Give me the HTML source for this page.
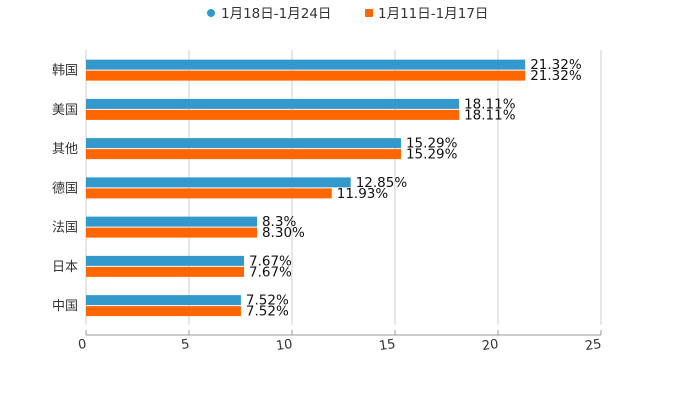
<!DOCTYPE html>
<html><head><meta charset="utf-8"><style>
body{margin:0;background:#fff;}
svg{display:block;font-family:"DejaVu Sans","Noto Sans CJK SC",sans-serif;}
</style></head><body>
<svg id="c" width="700" height="400">
<g>
<g><circle cx="211" cy="13" r="4" fill="#3399cc"/><text x="221" y="18" font-size="13.5" fill="#333">1月18日-1月24日</text></g>
<g><rect x="365" y="9" width="8" height="8" rx="1" fill="#ff6600"/><text x="378" y="18" font-size="13.5" fill="#333">1月11日-1月17日</text></g>
</g>
<g id="grid"></g>
<g id="bars"></g>
<g id="axes"></g>
</svg>
<script>
const categories=["韩国","美国","其他","德国","法国","日本","中国"];
const seriesA=[21.32,18.11,15.29,12.85,8.3,7.67,7.52];
const seriesB=[21.32,18.11,15.29,11.93,8.30,7.67,7.52];
const labelsA=["21.32%","18.11%","15.29%","12.85%","8.3%","7.67%","7.52%"];
const labelsB=["21.32%","18.11%","15.29%","11.93%","8.30%","7.67%","7.52%"];
const ticks=[0,5,10,15,20,25];
const NS="http://www.w3.org/2000/svg";
const x0=86,x1=601,yTop=50,band=39.25,xmax=25;
const X=v=>x0+(x1-x0)*v/xmax;
const Y=i=>yTop+band*i;
function mk(t,a,p){const e=document.createElementNS(NS,t);for(const k in a)e.setAttribute(k,a[k]);p.appendChild(e);return e;}
const g=document.getElementById('grid'),b=document.getElementById('bars'),ax=document.getElementById('axes');
ticks.forEach(t=>{
 const l=mk('line',{x1:X(t),x2:X(t),y1:yTop,y2:Y(7),stroke:'#ccc','stroke-width':1},g);
 
 
 const tk=mk('line',{x1:X(t),x2:X(t),y1:330,y2:335,stroke:'#999'},ax);
 
 
 const tx=mk('text',{x:X(t)+1,y:348,'font-size':13,fill:'#333','text-anchor':'end',transform:`rotate(-8 ${X(t)} 348)`},ax);
 tx.textContent=t;
 
 
});
const al=mk('line',{x1:x0,x2:x1,y1:335,y2:335,stroke:'#999'},ax);


categories.forEach((c,i)=>{
 const cy=Y(i)+band/2;
 const tl=mk('text',{x:78,y:cy+5,'font-size':13,fill:'#333','text-anchor':'end'},ax);
 tl.textContent=c;
 
 
 const ra=mk('rect',{x:x0,y:cy-10,width:X(seriesA[i])-x0,height:10,fill:'#3399cc'},b);
 
 
 const rb=mk('rect',{x:x0,y:cy+1,width:X(seriesB[i])-x0,height:10,fill:'#ff6600'},b);
 
 
 const va=mk('text',{x:X(seriesA[i])+5,y:cy-0.5,'font-size':13.5,fill:'#111'},b);
 va.textContent=labelsA[i];
 
 
 const vb=mk('text',{x:X(seriesB[i])+5,y:cy+10.5,'font-size':13.5,fill:'#111'},b);
 vb.textContent=labelsB[i];
 
 
});
</script>
</body></html>
